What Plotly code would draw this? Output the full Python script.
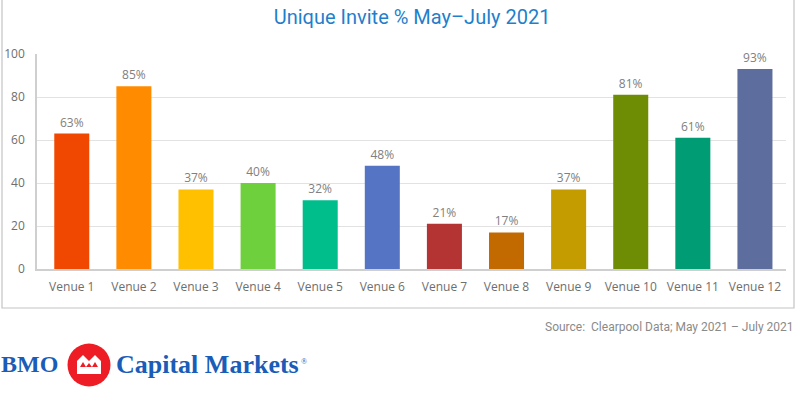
import plotly.graph_objects as go

categories = ["Venue 1", "Venue 2", "Venue 3", "Venue 4", "Venue 5", "Venue 6",
              "Venue 7", "Venue 8", "Venue 9", "Venue 10", "Venue 11", "Venue 12"]
values = [63, 85, 37, 40, 32, 48, 21, 17, 37, 81, 61, 93]
labels = [f"{v}%" for v in values]
bar_colors = ["#f04800", "#ff8c00", "#ffc000", "#6fd03e", "#00bd8c", "#5575c4",
              "#b43434", "#c26a00", "#c49c00", "#6f8d04", "#009c74", "#5d6d9d"]
y_ticks = [0, 20, 40, 60, 80, 100]

W, H = 808, 395
L, R, T, B = 37, 22, 54, 126
PW, PH = W - L - R, H - T - B


def px(x):
    return (x - L) / PW


def py(y):
    return (H - B - y) / PH


fig = go.Figure(go.Bar(
    x=categories, y=values, marker_color=bar_colors,
    text=labels, textposition="outside", cliponaxis=False,
    textfont=dict(family="Open Sans", size=12, color="#808080"),
    marker_line_width=0,
))

shapes = []
# outer frame
shapes.append(dict(type="rect", xref="paper", yref="paper",
                   x0=px(2), x1=px(794), y0=py(-5), y1=py(308),
                   line=dict(color="#c4c4c4", width=1.2), layer="below"))
# logo circle
cx, cy, r = 89, 365, 21.5
shapes.append(dict(type="circle", xref="paper", yref="paper",
                   x0=px(cx - r), x1=px(cx + r), y0=py(cy + r), y1=py(cy - r),
                   fillcolor="#ee1c25", line=dict(width=0)))


def path(points):
    s = ""
    for i, (a, b) in enumerate(points):
        s += ("M" if i == 0 else "L") + f"{px(cx + a):.5f},{py(cy + b):.5f} "
    return s + "Z"


shapes.append(dict(type="path", xref="paper", yref="paper",
                   path=path([(-12, 9), (-12, -4), (-6, -10), (0, -4), (6, -10), (12, -4), (12, 9)]),
                   fillcolor="white", line=dict(width=0)))
shapes.append(dict(type="path", xref="paper", yref="paper",
                   path=path([(-9, 2), (-6, -3), (-3, 2)]),
                   fillcolor="#ee1c25", line=dict(width=0)))
shapes.append(dict(type="path", xref="paper", yref="paper",
                   path=path([(3, 2), (6, -3), (9, 2)]),
                   fillcolor="#ee1c25", line=dict(width=0)))
shapes.append(dict(type="path", xref="paper", yref="paper",
                   path=path([(-3, 2), (0, -2), (3, 2)]),
                   fillcolor="#ee1c25", line=dict(width=0)))

annotations = [
    dict(text="Source:  Clearpool Data; May 2021 – July 2021", xref="paper", yref="paper",
         x=px(796), y=py(327), xanchor="right", yanchor="middle", showarrow=False,
         font=dict(family="Roboto", size=12, color="#8a8a8a")),
    dict(text="<b>BMO</b>", xref="paper", yref="paper", x=px(-1), y=py(364), xanchor="left",
         yanchor="middle", showarrow=False,
         font=dict(family="Liberation Serif", size=24, color="#1a5cb8")),
    dict(text="<b>Capital Markets</b>", xref="paper", yref="paper", x=px(114), y=py(364),
         xanchor="left", yanchor="middle", showarrow=False,
         font=dict(family="Liberation Serif", size=26, color="#1a5cb8")),
    dict(text="®", xref="paper", yref="paper", x=px(299), y=py(361), xanchor="left",
         yanchor="middle", showarrow=False,
         font=dict(family="Liberation Serif", size=8, color="#1a5cb8")),
]

fig.update_layout(
    width=W, height=H, margin=dict(l=L, r=R, t=T, b=B, pad=0, autoexpand=False),
    paper_bgcolor="white", plot_bgcolor="white",
    title=dict(text="Unique Invite % May–July 2021", x=0.51, xanchor="center",
               y=1 - 17 / H, yanchor="middle", automargin=False,
               font=dict(family="Roboto", size=20, color="#1f7fcc")),
    bargap=0.436, showlegend=False,
    shapes=shapes, annotations=annotations,
    xaxis=dict(range=[-0.56, 11.5], showline=True, linecolor="#cfcfcf", linewidth=1.5,
               ticks="", tickfont=dict(family="Open Sans", size=12, color="#6e6e6e"),
               ticklabelstandoff=6, fixedrange=True, automargin=False),
    yaxis=dict(range=[0, 100], tickvals=y_ticks, showgrid=True, gridcolor="#e2e2e2",
               gridwidth=1, showline=True, linecolor="#cfcfcf", linewidth=1.5,
               zeroline=False, ticks="", tickfont=dict(family="Open Sans", size=12, color="#6e6e6e"),
               ticklabelstandoff=8, fixedrange=True, automargin=False),
)

fig.write_html("out.html", config={"displayModeBar": False},
               post_script="document.body.style.margin='0';document.body.style.overflow='hidden';")
